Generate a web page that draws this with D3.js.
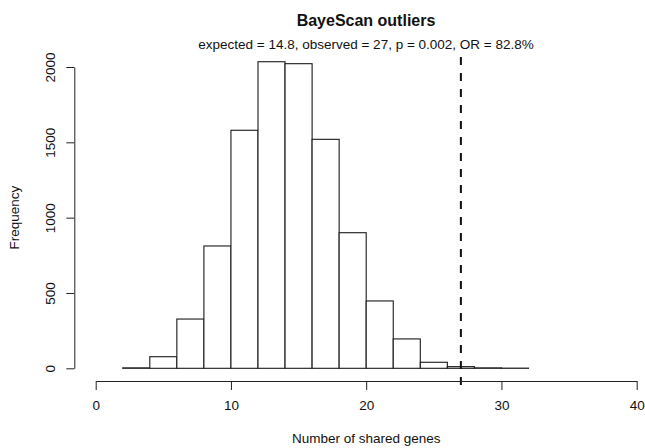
<!DOCTYPE html>
<html>
<head>
<meta charset="utf-8">
<script src="https://cdn.jsdelivr.net/npm/d3@7"></script>
<style>
  body { margin: 0; background: #fff; }
  svg { display: block; font-family: "Liberation Sans", Arial, sans-serif; }
</style>
</head>
<body>
<svg id="chart" width="645" height="448"></svg>
<script>
// histogram bins (width 2) and counts
let binStarts = [2, 4, 6, 8, 10, 12, 14, 16, 18, 20, 22, 24, 26, 28, 30];
let binWidth = 2;
let counts = [3, 77, 327, 812, 1580, 2035, 2022, 1520, 900, 447, 195, 40, 11, 3, 1];
let xTicks = [0, 10, 20, 30, 40];
let yTicks = [0, 500, 1000, 1500, 2000];
let observed = 27;

let titleText = 'BayeScan outliers';
let subText = 'expected = 14.8, observed = 27, p = 0.002, OR = 82.8%';

let svg = d3.select('#chart');

let x = d3.scaleLinear().domain([0, 40]).range([95.7, 636.7]);
let y = d3.scaleLinear().domain([0, 2000]).range([368.3, 67]);

let plotTop = y(d3.max(counts) * 1.04);
let plotBottom = 381;
let plotLeft = 74.3;

// bars
svg.selectAll('rect.bar')
  .data(binStarts)
  .enter()
  .append('rect')
  .attr('class', 'bar')
  .attr('x', (d) => x(d))
  .attr('y', (d, i) => y(counts[i]))
  .attr('width', (d) => x(d + binWidth) - x(d))
  .attr('height', (d, i) => y(0) - y(counts[i]))
  .attr('fill', '#fff')
  .attr('stroke', '#1a1a1a')
  .attr('stroke-width', 1.1)

// observed value line
svg.append('line')
  .attr('x1', x(observed)).attr('x2', x(observed))
  .attr('y1', plotBottom + 4).attr('y2', plotTop)
  .attr('stroke', '#111')
  .attr('stroke-width', 2)
  .attr('stroke-dasharray', '8,8')

// x axis
let xAxis = svg.append('g')
  .attr('transform', `translate(0,${plotBottom})`)
  .call(d3.axisBottom(x).tickValues(xTicks).tickSize(9).tickSizeOuter(0).tickPadding(10))
xAxis.selectAll('path, line').attr('stroke', '#222')
xAxis.selectAll('text')
  .attr('font-size', 13.5)
  .attr('fill', '#111')
  .style('font-family', '"Liberation Sans", Arial, sans-serif')

// y axis
let yAxis = svg.append('g')
  .attr('transform', `translate(${plotLeft},0)`)
  .call(d3.axisLeft(y).tickValues(yTicks).tickFormat(d3.format('d')).tickSize(8).tickSizeOuter(0))
yAxis.selectAll('path, line').attr('stroke', '#222')
yAxis.selectAll('text')
  .attr('x', 0).attr('dy', 0)
  .attr('transform', 'translate(-19,0) rotate(-90)')
  .attr('text-anchor', 'middle')
  .attr('font-size', 13.5)
  .attr('fill', '#111')
  .style('font-family', '"Liberation Sans", Arial, sans-serif')

// titles
svg.append('text')
  .attr('x', 366).attr('y', 25.5)
  .attr('text-anchor', 'middle')
  .attr('font-size', 16)
  .attr('font-weight', 'bold')
  .attr('fill', '#111')
  .text(titleText)

svg.append('text')
  .attr('x', 366).attr('y', 49)
  .attr('text-anchor', 'middle')
  .attr('font-size', 13.5)
  .attr('fill', '#111')
  .text(subText)

svg.append('text')
  .attr('x', x(20)).attr('y', 443)
  .attr('text-anchor', 'middle')
  .attr('font-size', 13.5)
  .attr('fill', '#111')
  .text('Number of shared genes')

svg.append('text')
  .attr('transform', `translate(19,${(y(0) + y(2000)) / 2}) rotate(-90)`)
  .attr('text-anchor', 'middle')
  .attr('font-size', 13.5)
  .attr('fill', '#111')
  .text('Frequency')
</script>
</body>
</html>
